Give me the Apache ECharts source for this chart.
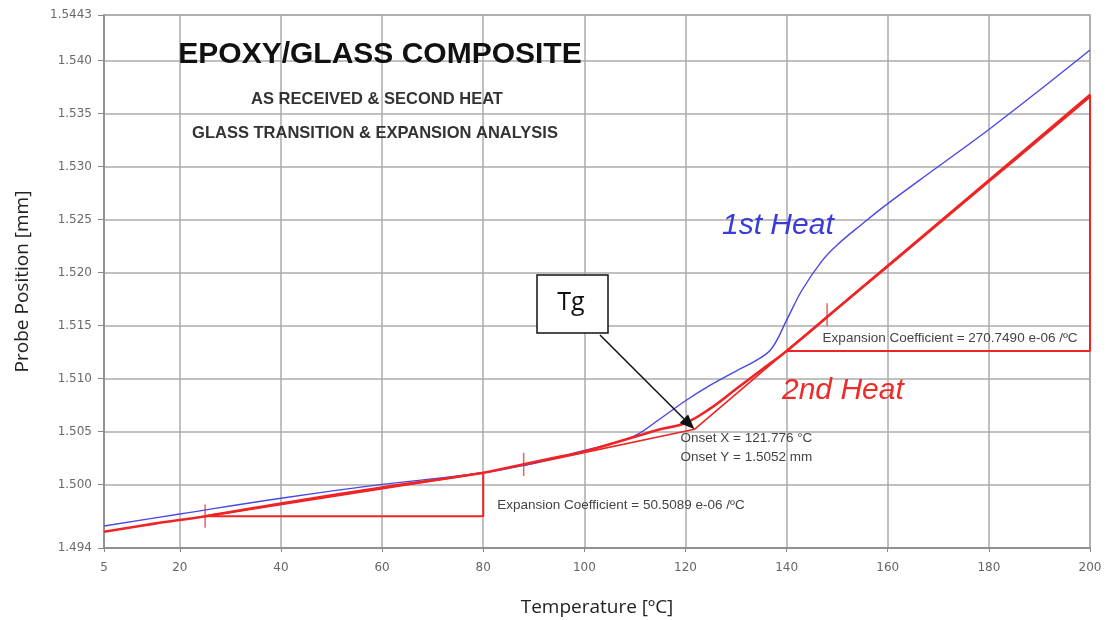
<!DOCTYPE html>
<html>
<head>
<meta charset="utf-8">
<script src="https://cdn.jsdelivr.net/npm/echarts@6/dist/echarts.min.js"></script>
<style>
  html, body { margin: 0; padding: 0; background: #fff; }
  #chart { width: 1107px; height: 620px; }
</style>
</head>
<body>
<div id="chart"></div>
<script>
// Temperature ticks and probe position ticks
const xTicks = [5, 20, 40, 60, 80, 100, 120, 140, 160, 180, 200];
const yTicks = [1.494, 1.500, 1.505, 1.510, 1.515, 1.520, 1.525, 1.530, 1.535, 1.540, 1.5443];

// 1st heat (as received)
const heat1T = [5, 20, 40, 60, 80, 90, 100, 105, 110, 115, 120, 125, 130, 134, 137, 140, 143, 147, 150, 155, 160, 170, 180, 190, 200];
const heat1Y = [1.49608, 1.49721, 1.4987, 1.5000, 1.5011, 1.5020, 1.5032, 1.5038, 1.5046, 1.5062, 1.5079, 1.5094, 1.5107, 1.5117, 1.5128, 1.5155, 1.5183, 1.5211, 1.5226, 1.5246, 1.5265, 1.5300, 1.5335, 1.5372, 1.5410];

// 2nd heat
const heat2T = [5, 15, 25, 40, 60, 80, 88, 95, 100, 105, 110, 115, 120, 125, 130, 135, 140, 150, 160, 170, 180, 190, 200];
const heat2Y = [1.49554, 1.4963, 1.4970, 1.4982, 1.4997, 1.5011, 1.5019, 1.5026, 1.5031, 1.5038, 1.5045, 1.5052, 1.5058, 1.5072, 1.5090, 1.5108, 1.5126, 1.5166, 1.5206, 1.5246, 1.5286, 1.5326, 1.5366];

// Expansion analysis constructions
const lowSlopeT = [25, 80, 80, 25];
const lowSlopeY = [1.4970, 1.4970, 1.5011, 1.4970];
const highSlopeT = [140, 200, 200, 140];
const highSlopeY = [1.5126, 1.5126, 1.5368, 1.5126];
const onset = [121.776, 1.5052];
const tangentT = [88, 121.776, 140];
const tangentY = [1.5018, 1.5052, 1.5126];
// range markers: temperature, low, high
const markerT = [25, 88, 148];
const markerLo = [1.4959, 1.5008, 1.5149];
const markerHi = [1.4981, 1.5030, 1.5171];

const zip = (a, b) => a.map((v, i) => [v, b[i]]);
const RED = '#ef2424';
const BLUE = '#4848e4';

const chart = echarts.init(document.getElementById('chart'));

const markerSeries = markerT.map((t, i) => ({
  type: 'line', data: [[t, markerLo[i]], [t, markerHi[i]]],
  symbol: 'none', lineStyle: { color: '#e86060', width: 1.5 }, silent: true, z: 4
}));

chart.setOption({
  animation: false,
  backgroundColor: '#ffffff',
  grid: {
    left: 104, right: 17, top: 15, bottom: 72,
    containLabel: false, outerBoundsMode: 'none',
    show: true, borderColor: '#a8a8a8', borderWidth: 1.5
  },
  xAxis: {
    type: 'value', min: 5, max: 200,
    name: 'Temperature [ºC]', nameLocation: 'middle', nameGap: 50,
    nameTextStyle: { fontFamily: 'Open Sans', fontSize: 19, color: '#222' },
    axisLine: { lineStyle: { color: '#888', width: 1.5 } },
    axisTick: { show: true, length: 4, customValues: xTicks, lineStyle: { color: '#888' } },
    axisLabel: { customValues: xTicks, margin: 14, fontFamily: 'DejaVu Sans', fontSize: 12, color: '#666' },
    splitLine: { show: true, lineStyle: { color: '#ababab', width: 1.5 } }
  },
  yAxis: {
    type: 'value', min: 1.494, max: 1.5443,
    name: 'Probe Position [mm]', nameLocation: 'middle', nameGap: 72, nameRotate: 90,
    nameTextStyle: { fontFamily: 'Open Sans', fontSize: 19, color: '#222' },
    axisLine: { show: true, lineStyle: { color: '#888', width: 1.5 } },
    axisTick: { show: true, length: 6, customValues: yTicks, lineStyle: { color: '#888' } },
    axisLabel: {
      customValues: yTicks, margin: 12, fontFamily: 'DejaVu Sans', fontSize: 12, color: '#6a6a6a',
      formatter: v => (Math.abs(v - 1.5443) < 1e-6 ? '1.5443' : v.toFixed(3))
    },
    splitLine: { show: true, lineStyle: { color: '#ababab', width: 1.5 } }
  },
  series: [
    { name: '1st Heat', type: 'line', data: zip(heat1T, heat1Y), smooth: 0.4, symbol: 'none',
      lineStyle: { color: BLUE, width: 1.4 }, z: 5 },
    { name: '2nd Heat', type: 'line', data: zip(heat2T, heat2Y), smooth: 0.4, symbol: 'none',
      lineStyle: { color: RED, width: 2.6 }, z: 6 },
    { type: 'line', data: zip(lowSlopeT, lowSlopeY), symbol: 'none',
      lineStyle: { color: RED, width: 2 }, z: 4 },
    { type: 'line', data: zip(highSlopeT, highSlopeY), symbol: 'none',
      lineStyle: { color: RED, width: 2 }, z: 4 },
    { type: 'line', data: zip(tangentT, tangentY), symbol: 'none',
      lineStyle: { color: RED, width: 1.6 }, z: 4 },
    ...markerSeries
  ]
});

// Annotations placed from data coordinates
const px = (p) => chart.convertToPixel({ gridIndex: 0 }, p);
const tip = px(onset);
const tail = [600, 335];
const ang = Math.atan2(tip[1] - tail[1], tip[0] - tail[0]);
const hl = 15, hw = 6;
const base = [tip[0] - hl * Math.cos(ang), tip[1] - hl * Math.sin(ang)];
const head = [
  tip,
  [base[0] + hw * Math.sin(ang), base[1] - hw * Math.cos(ang)],
  [base[0] - hw * Math.sin(ang), base[1] + hw * Math.cos(ang)]
];
const smallText = { fontFamily: 'Liberation Sans', fontSize: 13.5, fill: '#444' };
const lowLbl = px([80, 1.4980]);
const highLbl = px([140, 1.5138]);

chart.setOption({
  graphic: [
    { type: 'text', x: 380, y: 55, style: { text: 'EPOXY/GLASS COMPOSITE', fontFamily: 'Liberation Sans', fontWeight: 'bold', fontSize: 30, fill: '#111', align: 'center', verticalAlign: 'middle' }, z: 10 },
    { type: 'text', x: 377, y: 99, style: { text: 'AS RECEIVED & SECOND HEAT', fontFamily: 'Liberation Sans', fontWeight: 'bold', fontSize: 16.5, fill: '#333', align: 'center', verticalAlign: 'middle' }, z: 10 },
    { type: 'text', x: 375, y: 133, style: { text: 'GLASS TRANSITION & EXPANSION ANALYSIS', fontFamily: 'Liberation Sans', fontWeight: 'bold', fontSize: 16.5, fill: '#333', align: 'center', verticalAlign: 'middle' }, z: 10 },
    { type: 'text', x: 722, y: 226, style: { text: '1st Heat', fontFamily: 'Liberation Sans', fontStyle: 'italic', fontSize: 30, fill: '#3a3ad8', verticalAlign: 'middle' }, z: 10 },
    { type: 'text', x: 782, y: 391, style: { text: '2nd Heat', fontFamily: 'Liberation Sans', fontStyle: 'italic', fontSize: 30, fill: '#ee2a2a', verticalAlign: 'middle' }, z: 10 },
    { type: 'text', x: tip[0] - 14, y: tip[1] + 9, style: Object.assign({ text: 'Onset X = 121.776 °C', verticalAlign: 'middle' }, smallText), z: 10 },
    { type: 'text', x: tip[0] - 14, y: tip[1] + 28, style: Object.assign({ text: 'Onset Y = 1.5052 mm', verticalAlign: 'middle' }, smallText), z: 10 },
    { type: 'text', x: lowLbl[0] + 14, y: lowLbl[1], style: Object.assign({ text: 'Expansion Coefficient = 50.5089 e-06 /ºC', verticalAlign: 'middle' }, smallText), z: 10 },
    { type: 'text', x: highLbl[0] + 36, y: highLbl[1], style: Object.assign({ text: 'Expansion Coefficient = 270.7490 e-06 /ºC', verticalAlign: 'middle' }, smallText), z: 10 },
    { type: 'rect', shape: { x: 537, y: 275, width: 71, height: 58 }, style: { fill: '#fff', stroke: '#111', lineWidth: 1.5 }, z: 11 },
    { type: 'text', x: 571, y: 303, style: { text: 'Tg', fontFamily: 'Open Sans', fontSize: 25, fill: '#111', align: 'center', verticalAlign: 'middle' }, z: 12 },
    { type: 'line', shape: { x1: tail[0], y1: tail[1], x2: base[0], y2: base[1] }, style: { stroke: '#111', lineWidth: 1.5 }, z: 11 },
    { type: 'polygon', shape: { points: head }, style: { fill: '#111' }, z: 11 }
  ]
});
</script>
</body>
</html>
